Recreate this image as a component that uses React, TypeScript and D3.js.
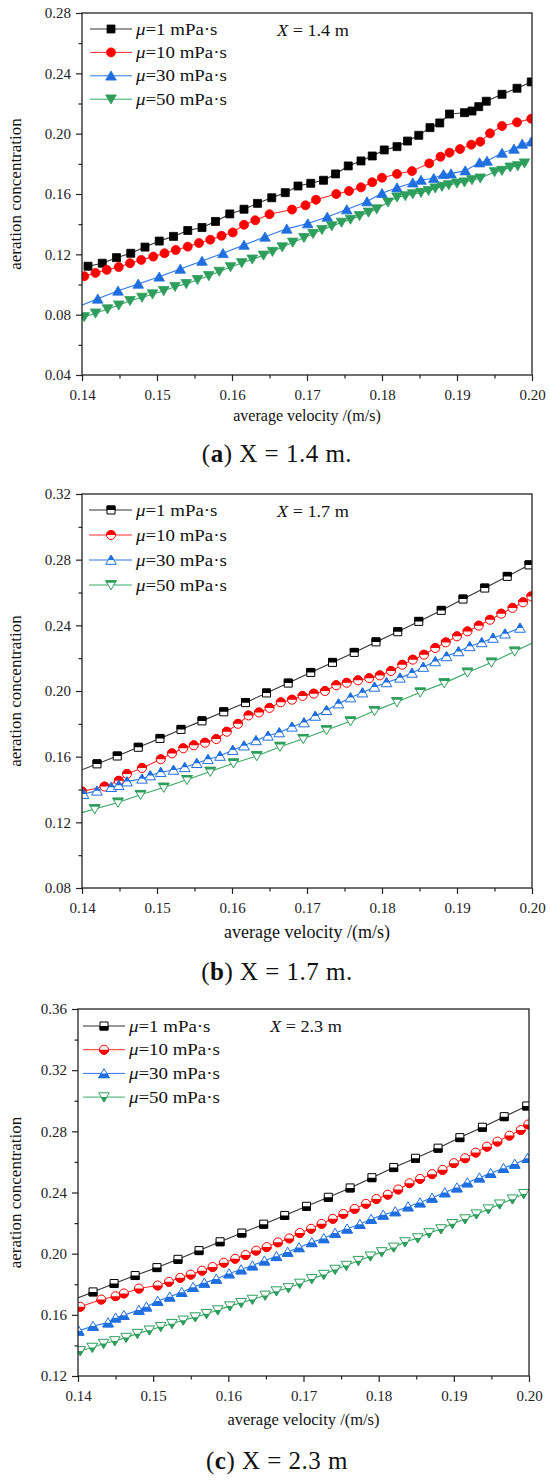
import React, { useEffect, useRef } from "react";
import * as d3 from "d3";

type Pt = [number, number];

// velocity (m/s) -> aeration concentration
const velocityTicks = [0.14, 0.15, 0.16, 0.17, 0.18, 0.19, 0.2];
const concTicksA = [0.04, 0.08, 0.12, 0.16, 0.2, 0.24, 0.28];
const concTicksB = [0.08, 0.12, 0.16, 0.2, 0.24, 0.28, 0.32];
const concTicksC = [0.12, 0.16, 0.2, 0.24, 0.28, 0.32, 0.36];

const viscosities = ["1", "10", "30", "50"];
const distances = ["1.4", "1.7", "2.3"];
const captionLetters = ["a", "b", "c"];
const captionEnds = [".", ".", ""];

const a_mu1: Pt[] = [
  [0.1408, 0.1121], [0.1427, 0.1141], [0.1446, 0.1178], [0.1465, 0.1207], [0.1484, 0.1248],
  [0.1503, 0.1288], [0.1522, 0.1319], [0.1541, 0.1358], [0.156, 0.1378], [0.1578, 0.1418],
  [0.1597, 0.1468], [0.1616, 0.1499], [0.1634, 0.1538], [0.1653, 0.1575], [0.1671, 0.1609],
  [0.1688, 0.1653], [0.1705, 0.1671], [0.1722, 0.1691], [0.1738, 0.1733], [0.1755, 0.1786],
  [0.1772, 0.1819], [0.1787, 0.1852], [0.1803, 0.1892], [0.182, 0.1914], [0.1834, 0.1951],
  [0.1849, 0.1989], [0.1864, 0.204], [0.1877, 0.2071], [0.189, 0.213], [0.191, 0.2139],
  [0.192, 0.215], [0.1929, 0.2179], [0.1939, 0.2215], [0.196, 0.2261], [0.198, 0.2301],
  [0.1999, 0.2343],
];
const a_mu10: Pt[] = [
  [0.1403, 0.1055], [0.1418, 0.1077], [0.1433, 0.1097], [0.1449, 0.1116], [0.1464, 0.1141],
  [0.1479, 0.1163], [0.1495, 0.1185], [0.151, 0.1207], [0.1525, 0.1229], [0.1541, 0.1251],
  [0.1556, 0.1275], [0.1571, 0.1297], [0.1586, 0.1323], [0.1601, 0.1345], [0.1616, 0.1396],
  [0.1631, 0.1426], [0.165, 0.1466], [0.168, 0.1497], [0.1698, 0.1525], [0.1712, 0.1562],
  [0.1739, 0.16], [0.1756, 0.162], [0.1772, 0.1644], [0.1787, 0.1678], [0.18, 0.1708],
  [0.182, 0.1733], [0.184, 0.1752], [0.1863, 0.1803], [0.1878, 0.1847], [0.189, 0.1874],
  [0.1904, 0.1898], [0.1919, 0.1927], [0.1931, 0.1947], [0.1944, 0.2002], [0.196, 0.2051],
  [0.198, 0.2075], [0.1999, 0.2099],
];
const a_mu30: Pt[] = [
  [0.1393, 0.085], [0.1421, 0.0905], [0.1448, 0.0958], [0.1475, 0.1004], [0.1503, 0.1051],
  [0.1531, 0.1103], [0.156, 0.1156], [0.1588, 0.1207], [0.1616, 0.1262], [0.1644, 0.1316],
  [0.1673, 0.1369], [0.1701, 0.1404], [0.1727, 0.1448], [0.1753, 0.1497], [0.178, 0.155],
  [0.18, 0.1605], [0.182, 0.1642], [0.1841, 0.1675], [0.1852, 0.1693], [0.1869, 0.1704],
  [0.1882, 0.1731], [0.1892, 0.1735], [0.1911, 0.1755], [0.193, 0.1808], [0.194, 0.1819],
  [0.196, 0.1872], [0.1976, 0.1899], [0.1987, 0.1932], [0.1999, 0.1947],
];
const a_mu50: Pt[] = [
  [0.1403, 0.0785], [0.1418, 0.0809], [0.1434, 0.0837], [0.1449, 0.0862], [0.1464, 0.0892],
  [0.148, 0.0914], [0.1494, 0.0936], [0.1509, 0.0958], [0.1524, 0.0985], [0.1539, 0.1004],
  [0.1554, 0.1031], [0.1569, 0.1057], [0.1583, 0.1086], [0.1598, 0.1116], [0.1613, 0.1143],
  [0.1627, 0.1167], [0.1642, 0.1193], [0.1654, 0.1218], [0.1667, 0.1248], [0.1681, 0.1279],
  [0.1696, 0.131], [0.1708, 0.1336], [0.172, 0.1363], [0.1733, 0.1387], [0.1746, 0.1411],
  [0.1758, 0.1431], [0.177, 0.1455], [0.1782, 0.1478], [0.1793, 0.15], [0.1808, 0.1545],
  [0.182, 0.1578], [0.1831, 0.1587], [0.1841, 0.16], [0.1852, 0.1609], [0.1862, 0.1622],
  [0.1871, 0.1638], [0.188, 0.1649], [0.1889, 0.166], [0.19, 0.1671], [0.191, 0.1678],
  [0.192, 0.1693], [0.1931, 0.1704], [0.195, 0.1746], [0.196, 0.1755], [0.1971, 0.1777],
  [0.1981, 0.1786], [0.199, 0.1804],
];

const b_mu1: Pt[] = [
  [0.1391, 0.1504], [0.142, 0.1556], [0.1447, 0.1604], [0.1475, 0.1657], [0.1504, 0.1711],
  [0.1532, 0.1766], [0.156, 0.1818], [0.1589, 0.1873], [0.1618, 0.1929], [0.1646, 0.1988],
  [0.1675, 0.2048], [0.1705, 0.2113], [0.1734, 0.2174], [0.1763, 0.2235], [0.1792, 0.2299],
  [0.1821, 0.2361], [0.1849, 0.2424], [0.1879, 0.2491], [0.1908, 0.256], [0.1937, 0.2627],
  [0.1967, 0.2698], [0.1996, 0.2768],
];
const b_mu10: Pt[] = [
  [0.14, 0.1388], [0.143, 0.1418], [0.1449, 0.1453], [0.146, 0.1495], [0.148, 0.1531],
  [0.1505, 0.1584], [0.152, 0.162], [0.1535, 0.1651], [0.1549, 0.1669], [0.1564, 0.1685],
  [0.1579, 0.1707], [0.1593, 0.1752], [0.1608, 0.18], [0.1622, 0.1851], [0.1636, 0.1869],
  [0.165, 0.1897], [0.1665, 0.1931], [0.168, 0.1947], [0.1694, 0.197], [0.1709, 0.1984],
  [0.1724, 0.2], [0.1739, 0.2035], [0.1753, 0.205], [0.1768, 0.2065], [0.1783, 0.2078],
  [0.1797, 0.2095], [0.1812, 0.2122], [0.1827, 0.216], [0.1841, 0.2191], [0.1856, 0.2221],
  [0.1871, 0.2262], [0.1885, 0.2296], [0.19, 0.2333], [0.1914, 0.2363], [0.1929, 0.2398],
  [0.1944, 0.2434], [0.1959, 0.2471], [0.1974, 0.2506], [0.1988, 0.254], [0.1999, 0.2576],
];
const b_mu30: Pt[] = [
  [0.1402, 0.1372], [0.142, 0.1392], [0.1439, 0.1414], [0.1449, 0.1426], [0.146, 0.1448],
  [0.148, 0.1465], [0.1491, 0.1485], [0.1505, 0.1505], [0.1522, 0.1519], [0.1537, 0.1535],
  [0.1553, 0.156], [0.1568, 0.1584], [0.1584, 0.1604], [0.1601, 0.164], [0.1616, 0.1667],
  [0.1632, 0.1699], [0.1648, 0.1727], [0.1663, 0.1747], [0.168, 0.1782], [0.1696, 0.1808],
  [0.1711, 0.1848], [0.1726, 0.1883], [0.1742, 0.1923], [0.1758, 0.196], [0.1774, 0.199],
  [0.179, 0.2025], [0.1806, 0.2052], [0.1824, 0.208], [0.184, 0.211], [0.1855, 0.2146],
  [0.1871, 0.218], [0.1886, 0.2211], [0.1902, 0.2241], [0.1917, 0.2272], [0.1933, 0.2296],
  [0.1948, 0.2323], [0.1964, 0.2349], [0.1984, 0.2384],
];
const b_mu50: Pt[] = [
  [0.1386, 0.1241], [0.1417, 0.1281], [0.1448, 0.1321], [0.1478, 0.1368], [0.1509, 0.1412],
  [0.154, 0.1459], [0.1571, 0.1509], [0.1602, 0.156], [0.1633, 0.1604], [0.1664, 0.1661],
  [0.1695, 0.1709], [0.1726, 0.1762], [0.1758, 0.1816], [0.179, 0.1879], [0.182, 0.1933],
  [0.1851, 0.1992], [0.1883, 0.2048], [0.1914, 0.2113], [0.1946, 0.2174], [0.1977, 0.2241],
  [0.2008, 0.231],
];

const c_mu1: Pt[] = [
  [0.1392, 0.1695], [0.142, 0.175], [0.1448, 0.1805], [0.1476, 0.1857], [0.1505, 0.1909],
  [0.1533, 0.1963], [0.1561, 0.202], [0.1589, 0.2078], [0.1618, 0.2135], [0.1647, 0.2193],
  [0.1675, 0.225], [0.1704, 0.231], [0.1733, 0.2369], [0.1762, 0.243], [0.1791, 0.2497],
  [0.182, 0.2563], [0.1849, 0.2624], [0.1879, 0.269], [0.1908, 0.2759], [0.1938, 0.2827],
  [0.1967, 0.2896], [0.1997, 0.2966],
];
const c_mu10: Pt[] = [
  [0.1403, 0.1653], [0.1431, 0.17], [0.145, 0.1722], [0.1461, 0.174], [0.1481, 0.1772],
  [0.1506, 0.1792], [0.1521, 0.1816], [0.1536, 0.1842], [0.155, 0.1863], [0.1565, 0.1889],
  [0.1579, 0.1913], [0.1594, 0.1941], [0.1609, 0.1967], [0.1623, 0.1991], [0.1637, 0.202],
  [0.1651, 0.2043], [0.1666, 0.2074], [0.1681, 0.21], [0.1695, 0.2135], [0.171, 0.2163],
  [0.1724, 0.2195], [0.1739, 0.2228], [0.1753, 0.226], [0.1768, 0.2293], [0.1783, 0.2326],
  [0.1797, 0.2358], [0.1812, 0.2386], [0.1826, 0.242], [0.1841, 0.2461], [0.1855, 0.2489],
  [0.1871, 0.252], [0.1885, 0.2548], [0.19, 0.2592], [0.1915, 0.2624], [0.1929, 0.2661],
  [0.1944, 0.27], [0.1958, 0.2733], [0.1974, 0.2772], [0.1989, 0.2809], [0.1999, 0.2845],
];
const c_mu30: Pt[] = [
  [0.1401, 0.1495], [0.142, 0.1527], [0.144, 0.1549], [0.145, 0.1581], [0.1461, 0.1598],
  [0.1481, 0.1631], [0.1491, 0.1653], [0.1506, 0.169], [0.1522, 0.1718], [0.1538, 0.1748],
  [0.1553, 0.1781], [0.1568, 0.1809], [0.1584, 0.1835], [0.1601, 0.187], [0.1617, 0.1896],
  [0.1632, 0.1922], [0.1648, 0.1954], [0.1664, 0.1983], [0.1679, 0.2011], [0.1694, 0.2041],
  [0.1711, 0.2074], [0.1727, 0.21], [0.1742, 0.2135], [0.1758, 0.2163], [0.1775, 0.2193],
  [0.179, 0.2226], [0.1806, 0.2254], [0.1822, 0.2276], [0.1839, 0.2308], [0.1855, 0.2334],
  [0.1871, 0.2365], [0.1888, 0.24], [0.1904, 0.2432], [0.1918, 0.2465], [0.1934, 0.2497],
  [0.1949, 0.2526], [0.1966, 0.2559], [0.1981, 0.2587], [0.1998, 0.2624],
];
const c_mu50: Pt[] = [
  [0.1403, 0.1364], [0.1419, 0.1386], [0.1434, 0.1412], [0.1449, 0.1429], [0.1464, 0.1451],
  [0.1479, 0.1477], [0.1495, 0.1499], [0.151, 0.1522], [0.1525, 0.1542], [0.154, 0.1564],
  [0.1556, 0.1585], [0.1571, 0.1607], [0.1586, 0.1631], [0.1602, 0.1657], [0.1617, 0.1679],
  [0.1632, 0.17], [0.1649, 0.1727], [0.1664, 0.1755], [0.168, 0.1776], [0.1695, 0.1805],
  [0.1711, 0.1835], [0.1727, 0.1863], [0.1742, 0.1896], [0.1757, 0.1922], [0.1773, 0.1954],
  [0.1789, 0.1983], [0.1804, 0.2011], [0.182, 0.2041], [0.1835, 0.2076], [0.1852, 0.2102],
  [0.1867, 0.2135], [0.1883, 0.2161], [0.1898, 0.2195], [0.1915, 0.2226], [0.193, 0.2258],
  [0.1946, 0.2291], [0.1961, 0.2323], [0.1978, 0.2356], [0.1993, 0.2391],
];

const seriesColors = ["#000000", "#ff0000", "#1f6fe0", "#2e9e5c"];
const lineColors = ["#333333", "#ff2a2a", "#2a78e6", "#35a862"];
const seriesShapes = ["square", "circle", "triangle", "triangleDown"];

const SERIF = "'Liberation Serif', 'Times New Roman', serif";

interface IPanel {
  series: Pt[][]
  yTicks: number[]
  fillMode: "full" | "top" | "bottom"
  x0: number; x1: number; y0: number; y1: number
  legend: { lx0: number; lx1: number; mx: number; tx: number; ty: number; dy: number }
  tag: { x: number; y: number }
  xTitleY: number
  captionY: number
  xTitleSize: number
}

const panels: IPanel[] = [
  {
    series: [a_mu1, a_mu10, a_mu30, a_mu50], yTicks: concTicksA, fillMode: "full",
    x0: 82, x1: 532, y0: 13, y1: 375,
    legend: { lx0: 90, lx1: 132, mx: 111, tx: 136, ty: 29, dy: 23.4 },
    tag: { x: 277, y: 30 }, xTitleY: 421, captionY: 462, xTitleSize: 16,
  },
  {
    series: [b_mu1, b_mu10, b_mu30, b_mu50], yTicks: concTicksB, fillMode: "top",
    x0: 82, x1: 532, y0: 494, y1: 888,
    legend: { lx0: 89, lx1: 132, mx: 111, tx: 136, ty: 510, dy: 25 },
    tag: { x: 277, y: 511 }, xTitleY: 938, captionY: 980, xTitleSize: 18,
  },
  {
    series: [c_mu1, c_mu10, c_mu30, c_mu50], yTicks: concTicksC, fillMode: "bottom",
    x0: 78, x1: 529, y0: 1009, y1: 1376,
    legend: { lx0: 83, lx1: 125, mx: 104, tx: 129, ty: 1026, dy: 23.7 },
    tag: { x: 270, y: 1026 }, xTitleY: 1425, captionY: 1469, xTitleSize: 16.5,
  },
];

const shapePath = (shape: string): string => {
  switch (shape) {
    case "square": return "M-4,-4H4V4H-4Z";
    case "circle": return "M4.5,0A4.5,4.5 0 1,1 -4.5,0A4.5,4.5 0 1,1 4.5,0Z";
    case "triangle": return "M0,-4.8L5.3,4.3L-5.3,4.3Z";
    default: return "M0,4.8L5.3,-4.3L-5.3,-4.3Z";
  }
};

const drawMarker = (
  g: d3.Selection<SVGGElement, unknown, null, undefined>,
  x: number, y: number, si: number, mode: string,
) => {
  const m = g.append("g").attr("transform", `translate(${x},${y})`);
  const d = shapePath(seriesShapes[si]);
  const c = seriesColors[si];
  if (mode === "full") {
    m.append("path").attr("d", d).attr("fill", c).attr("stroke", c).attr("stroke-width", 0.8);
    return;
  }
  m.append("path").attr("d", d).attr("fill", "#fff").attr("stroke", c).attr("stroke-width", 1);
  let clip = mode === "top" ? "half-top" : "half-bottom";
  if (mode === "top" && seriesShapes[si] === "triangleDown") clip = "cap-top";
  m.append("path").attr("d", d).attr("fill", c).attr("stroke", c).attr("stroke-width", 1)
    .attr("clip-path", `url(#${clip})`);
};

const App: React.FC = () => {
  const ref = useRef<SVGSVGElement>(null);

  useEffect(() => {
    const svg = d3.select(ref.current);
    svg.selectAll("*").remove();
    const defs = svg.append("defs");
    defs.append("clipPath").attr("id", "half-top").append("rect")
      .attr("x", -8).attr("y", -8).attr("width", 16).attr("height", 8);
    defs.append("clipPath").attr("id", "half-bottom").append("rect")
      .attr("x", -8).attr("y", 0).attr("width", 16).attr("height", 8);
    defs.append("clipPath").attr("id", "cap-top").append("rect")
      .attr("x", -8).attr("y", -8).attr("width", 16).attr("height", 5.8);

    const minorX = d3.pairs(velocityTicks).map(([a, b]) => (a + b) / 2);

    panels.forEach((p, pi) => {
      const x = d3.scaleLinear().domain([velocityTicks[0], velocityTicks[velocityTicks.length - 1]]).range([p.x0, p.x1]);
      const y = d3.scaleLinear().domain([p.yTicks[0], p.yTicks[p.yTicks.length - 1]]).range([p.y1, p.y0]);
      const minorY = d3.pairs(p.yTicks).map(([a, b]) => (a + b) / 2);
      const root = svg.append("g");

      defs.append("clipPath").attr("id", `plot-${pi}`).append("rect")
        .attr("x", p.x0).attr("y", p.y0).attr("width", p.x1 - p.x0).attr("height", p.y1 - p.y0);

      // curves + markers
      const plot = root.append("g").attr("clip-path", `url(#plot-${pi})`);
      const line = d3.line<Pt>().x(d => x(d[0])).y(d => y(d[1]));
      p.series.forEach((s, si) => {
        plot.append("path").attr("d", line(s) || "").attr("fill", "none")
          .attr("stroke", lineColors[si]).attr("stroke-width", 1.1);
      });
      p.series.forEach((s, si) => {
        s.forEach(d => drawMarker(plot, x(d[0]), y(d[1]), si, p.fillMode));
      });

      // axes
      const styleAxis = (ax: d3.Selection<SVGGElement, unknown, null, undefined>) => {
        ax.select(".domain").remove();
        ax.selectAll("line").attr("stroke", "#222").attr("stroke-width", 1.2);
        ax.selectAll("text").attr("fill", "#222")
          .style("font-family", SERIF).style("font-size", "15px");
      };
      const gx = root.append("g").attr("transform", `translate(0,${p.y1})`)
        .call(d3.axisBottom(x).tickValues(velocityTicks).tickSize(6).tickPadding(8).tickFormat(d3.format(".2f")));
      styleAxis(gx);
      const gxm = root.append("g").attr("transform", `translate(0,${p.y1})`)
        .call(d3.axisBottom(x).tickValues(minorX).tickSize(3.5).tickFormat(() => ""));
      styleAxis(gxm);
      const gy = root.append("g").attr("transform", `translate(${p.x0},0)`)
        .call(d3.axisLeft(y).tickValues(p.yTicks).tickSize(6).tickPadding(5).tickFormat(d3.format(".2f")));
      styleAxis(gy);
      const gym = root.append("g").attr("transform", `translate(${p.x0},0)`)
        .call(d3.axisLeft(y).tickValues(minorY).tickSize(3.5).tickFormat(() => ""));
      styleAxis(gym);

      root.append("rect").attr("x", p.x0).attr("y", p.y0)
        .attr("width", p.x1 - p.x0).attr("height", p.y1 - p.y0)
        .attr("fill", "none").attr("stroke", "#222").attr("stroke-width", 1.3);

      // legend
      const L = p.legend;
      viscosities.forEach((v, si) => {
        const ly = L.ty + L.dy * si;
        root.append("line").attr("x1", L.lx0).attr("x2", L.lx1).attr("y1", ly).attr("y2", ly)
          .attr("stroke", lineColors[si]).attr("stroke-width", 1);
        drawMarker(root, L.mx, ly, si, p.fillMode);
        const t = root.append("text").attr("transform", `translate(${L.tx},${ly}) scale(1.18,1)`)
          .attr("dy", "0.35em")
          .style("font-family", SERIF).style("font-size", "16px").attr("fill", "#111");
        t.append("tspan").style("font-style", "italic").text("μ");
        t.append("tspan").text(`=${v} mPa·s`);
      });

      const tag = root.append("text").attr("transform", `translate(${p.tag.x},${p.tag.y}) scale(1.07,1)`)
        .attr("dy", "0.35em")
        .style("font-family", SERIF).style("font-size", "17px").attr("fill", "#111");
      tag.append("tspan").style("font-style", "italic").text("X");
      tag.append("tspan").text(` = ${distances[pi]} m`);

      // titles
      root.append("text").attr("x", (p.x0 + p.x1) / 2).attr("y", p.xTitleY)
        .attr("text-anchor", "middle").style("font-family", SERIF)
        .style("font-size", `${p.xTitleSize}px`).attr("fill", "#111")
        .text("average velocity /(m/s)");
      root.append("text")
        .attr("transform", `translate(15,${(p.y0 + p.y1) / 2}) rotate(-90)`)
        .attr("text-anchor", "middle").attr("dy", "0.35em")
        .style("font-family", SERIF).style("font-size", "17px").attr("fill", "#111")
        .text("aeration concentration");

      const cap = root.append("text").attr("x", 277).attr("y", p.captionY)
        .attr("text-anchor", "middle").style("font-family", SERIF)
        .style("font-size", "25px").style("letter-spacing", "0.5px").attr("fill", "#111");
      cap.append("tspan").text("(");
      cap.append("tspan").style("font-weight", "bold").text(captionLetters[pi]);
      cap.append("tspan").text(`) X = ${distances[pi]} m${captionEnds[pi]}`);
    });
  }, []);

  return (
    <svg ref={ref} width={550} height={1483}
         style={{ position: "absolute", left: 0, top: 0, background: "#fff" }} />
  );
};

export default App;
